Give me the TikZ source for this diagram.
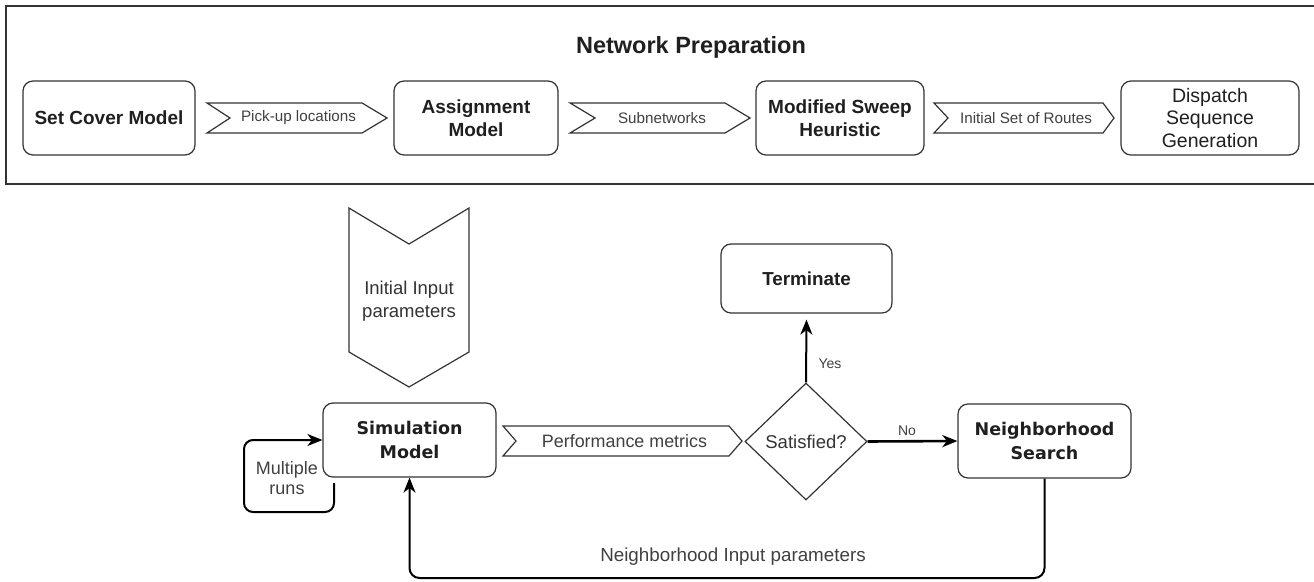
\documentclass[tikz,border=0pt]{standalone}
\usepackage{fontspec}
\setmainfont{Liberation Sans}
\newfontfamily\dvs{DejaVu Sans}
\usetikzlibrary{arrows.meta,shapes.geometric}
\begin{document}
\begin{tikzpicture}[x=1pt,y=-1pt,
  box/.style={draw=black!80, line width=1.2pt, rounded corners=10pt, align=center, inner sep=0pt, text=black!88},
  bt/.style={font=\fontsize{19}{23}\selectfont\bfseries},
  dv/.style={font=\dvs\fontsize{17.5}{24}\selectfont\bfseries},
  sig/.style={draw=black!80, line width=1.2pt, fill=white},
  lbl/.style={text=black!75, inner sep=0pt, align=center},
  small/.style={font=\fontsize{15.2}{18}\selectfont},
  mid/.style={font=\fontsize{18.5}{23}\selectfont},
  conn/.style={draw=black, line width=2pt, -{Stealth[length=15pt,width=12pt,inset=4.5pt]}},
]
\useasboundingbox (0,0) rectangle (1314,581);
% frame
\draw[draw=black!80, line width=1.3pt] (6,6) rectangle (1316,184);
\node[font=\fontsize{23.5}{28}\selectfont\bfseries, text=black!88] (title) at (691,47) {Network Preparation};

% top row boxes
\node[box, bt, minimum width=172pt, minimum height=74pt] (scm) at (109,118) {Set Cover Model};
\node[box, bt, minimum width=164pt, minimum height=74pt] (am) at (476,118) {Assignment\\Model};
\node[box, bt, minimum width=168pt, minimum height=74pt] (msh) at (840,118) {Modified Sweep\\Heuristic};
\node[box, font=\fontsize{19.5}{22.5}\selectfont, minimum width=178pt, minimum height=74pt] (dsg) at (1210,118) {Dispatch\\Sequence\\Generation};

% top signal arrows
\draw[sig] (207,103) -- (362,103) -- (387,118) -- (362,133) -- (207,133) -- (230,118) -- cycle;
\node[lbl, small] (pul) at (298.5,118) {Pick-up locations};
\draw[sig] (570,103) -- (725,103) -- (750,118) -- (725,133) -- (570,133) -- (595,118) -- cycle;
\node[lbl, small] (snw) at (662,118) {Subnetworks};
\draw[sig] (934,103) -- (1103,103) -- (1114,118) -- (1103,133) -- (934,133) -- (948,118) -- cycle;
\node[lbl, small] (isr) at (1026,118) {Initial Set of Routes};

% chevron down
\draw[sig] (349,208) -- (409,244) -- (469,208) -- (469,352) -- (409,387) -- (349,352) -- cycle;
\node[lbl, mid, text=black!80] (iip) at (409,301) {Initial Input\\parameters};

% lower nodes
\node[box, dv, minimum width=173pt, minimum height=74pt] (sim) at (409.5,440) {Simulation\\Model};
\node[box, font=\fontsize{18.8}{23}\selectfont\bfseries, minimum width=171pt, minimum height=69pt] (term) at (806.5,278.5) {Terminate};
\node[box, dv, minimum width=173pt, minimum height=74pt] (ns) at (1044.5,441) {Neighborhood\\Search};
\node[draw=black!80, line width=1.2pt, diamond, minimum width=122pt, minimum height=117pt, inner sep=0pt, mid, text=black!80] (dia) at (806,441.5) {Satisfied?};

% performance metrics signal
\draw[sig] (503,426) -- (729,426) -- (742,441) -- (729,456) -- (503,456) -- (516,441) -- cycle;
\node[lbl, font=\fontsize{17.9}{22}\selectfont] (pm) at (624.5,441) {Performance metrics};

% connectors
\draw[conn] (dia.north) -- ([yshift=-6pt]term.south);
\node[lbl, font=\fontsize{14}{16}\selectfont] (yes) at (830,364) {Yes};
\draw[conn, line width=2.6pt] (dia.east) -- (ns.west);
\node[lbl, font=\fontsize{14}{16}\selectfont] (no) at (907,431) {No};

\coordinate (loopstart) at (334,483);
\draw[conn, rounded corners=9pt] (loopstart) -- (334,512) -- (244,512) -- (244,440) -- (sim.west);
\node[lbl, mid, font=\fontsize{18}{19.5}\selectfont] (mr) at (287,478) {Multiple\\runs};

\draw[conn, rounded corners=10pt] (ns.south) -- (1044.5,578) -- (409.5,578) -- (sim.south);
\node[lbl, mid, font=\fontsize{18.8}{22}\selectfont] (nip) at (733,557) {Neighborhood Input parameters};
\end{tikzpicture}
\end{document}
